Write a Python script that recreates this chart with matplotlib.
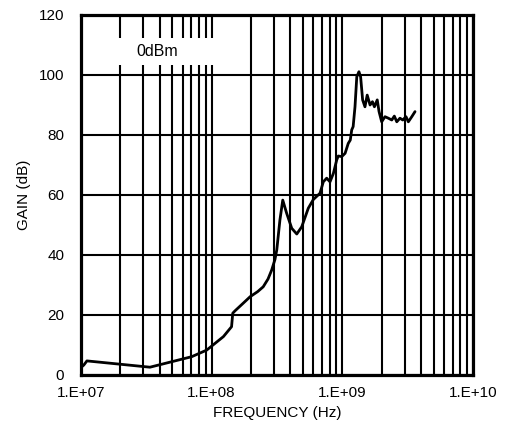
import matplotlib
matplotlib.use("Agg")
import matplotlib.pyplot as plt
from matplotlib.patches import Rectangle
from matplotlib.ticker import FixedLocator, FixedFormatter, NullFormatter

plt.rcParams['font.family'] = ['Liberation Sans', 'DejaVu Sans']

freq_hz = [1.0e7, 1.03e7, 1.05e7, 1.11e7, 3.37e7, 7.03e7, 9.16e7, 1.23e8, 1.42e8,
           1.45e8, 1.51e8, 1.75e8, 1.97e8, 2.25e8, 2.48e8, 2.70e8, 2.88e8, 3.05e8,
           3.15e8, 3.33e8, 3.50e8, 3.75e8,
           4.10e8, 4.48e8, 4.89e8, 5.49e8, 6.00e8, 6.75e8, 7.15e8, 7.59e8, 8.05e8,
           8.54e8, 9.06e8, 9.31e8, 9.89e8, 1.05e9, 1.11e9, 1.15e9, 1.18e9, 1.21e9,
           1.25e9, 1.29e9, 1.34e9, 1.38e9, 1.43e9, 1.49e9, 1.55e9, 1.63e9, 1.70e9,
           1.76e9, 1.85e9, 1.91e9, 2.00e9, 2.12e9, 2.25e9, 2.39e9, 2.50e9, 2.61e9,
           2.76e9, 2.90e9, 3.07e9, 3.20e9, 3.40e9, 3.60e9]
gain_db = [2.5, 3.0, 3.3, 4.7, 2.6, 6.1, 8.3, 12.8, 16.1,
           20.6, 21.4, 24.0, 26.1, 27.8, 29.4, 32.0, 35.0, 38.5,
           41.7, 51.7, 58.3, 53.9,
           48.9, 47.0, 49.4, 55.6, 58.5, 60.6, 64.4, 65.6, 64.4,
           67.2, 71.7, 73.0, 72.8, 73.9, 77.2, 78.3, 81.7, 82.8,
           89.4, 99.4, 101.1, 99.4, 91.7, 89.4, 93.3, 90.0, 91.1,
           89.4, 91.7, 87.8, 84.4, 86.1, 85.6, 85.0, 86.3, 84.4,
           85.6, 85.0, 86.1, 84.4, 86.1, 87.8]

x_ticks = [1e7, 1e8, 1e9, 1e10]
x_tick_labels = ["1.E+07", "1.E+08", "1.E+09", "1.E+10"]
y_ticks = [0, 20, 40, 60, 80, 100, 120]
annotation = "0dBm"

fig = plt.figure(figsize=(5.07, 4.34), dpi=100)
ax = fig.add_axes([81/507, 59/434, 392/507, 360/434])

ax.set_xscale('log')
ax.set_xlim(1e7, 1e10)
ax.set_ylim(0, 120)

minor = [m * 10**e for e in range(7, 10) for m in range(2, 10)]
ax.xaxis.set_major_locator(FixedLocator(x_ticks))
ax.xaxis.set_major_formatter(FixedFormatter(x_tick_labels))
ax.xaxis.set_minor_locator(FixedLocator(minor))
ax.xaxis.set_minor_formatter(NullFormatter())
ax.set_yticks(y_ticks)

ax.grid(True, which='both', axis='x', color='black', linewidth=1.5)
ax.grid(True, which='major', axis='y', color='black', linewidth=1.5)
ax.set_axisbelow(True)
ax.tick_params(which='both', length=0, labelsize=11, pad=8)
ax.tick_params(axis='y', pad=12)

for s in ax.spines.values():
    s.set_linewidth(2.3)
    s.set_zorder(5)

ax.add_patch(Rectangle((0.036, 0.862), 0.32, 0.074, transform=ax.transAxes,
                       facecolor='white', edgecolor='none', zorder=1.5))
ax.text((157 - 81) / 392, (375 - 52) / 360, annotation, transform=ax.transAxes,
        ha='center', va='center', fontsize=11.5, zorder=3)

ax.plot(freq_hz, gain_db, color='black', linewidth=2.0, zorder=4,
        solid_joinstyle='round', solid_capstyle='round')

ax.set_xlabel("FREQUENCY (Hz)", fontsize=11, labelpad=4)
ax.set_ylabel("GAIN (dB)", fontsize=11, labelpad=6)

fig.savefig("out.png", dpi=100)
